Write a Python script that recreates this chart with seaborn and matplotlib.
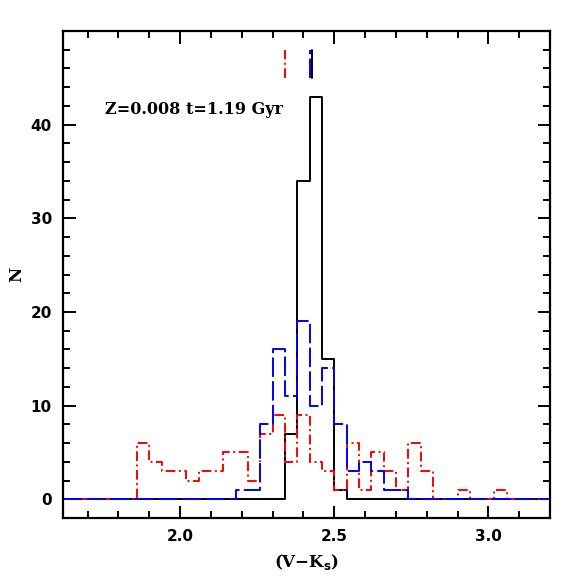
import numpy as np
import matplotlib
matplotlib.use('Agg')
import matplotlib.pyplot as plt
import seaborn as sns

# bin edges of the colour histograms (width 0.04)
bin_edges = [1.62, 1.66, 1.70, 1.74, 1.78, 1.82, 1.86, 1.90, 1.94, 1.98,
             2.02, 2.06, 2.10, 2.14, 2.18, 2.22, 2.26, 2.30, 2.34, 2.38,
             2.42, 2.46, 2.50, 2.54, 2.58, 2.62, 2.66, 2.70, 2.74, 2.78,
             2.82, 2.86, 2.90, 2.94, 2.98, 3.02, 3.06, 3.10, 3.14, 3.18, 3.22]

# counts per bin
n_black = [0, 0, 0, 0, 0, 0, 0, 0, 0, 0,
           0, 0, 0, 0, 0, 0, 0, 0, 7, 34,
           43, 15, 1, 0, 0, 0, 0, 0, 0, 0,
           0, 0, 0, 0, 0, 0, 0, 0, 0, 0]
n_blue = [0, 0, 0, 0, 0, 0, 0, 0, 0, 0,
          0, 0, 0, 0, 1, 1, 8, 16, 11, 19,
          10, 14, 8, 3, 4, 3, 1, 1, 0, 0,
          0, 0, 0, 0, 0, 0, 0, 0, 0, 0]
n_red = [0, 0, 0, 0, 0, 0, 6, 4, 3, 3,
         2, 3, 3, 5, 5, 2, 7, 9, 4, 9,
         4, 3, 1, 6, 1, 5, 3, 1, 6, 3,
         0, 0, 1, 0, 0, 1, 0, 0, 0, 0]

# mean colour markers at the top
mean_x = [2.428, 2.34, 2.421]
label_text = 'Z=0.008 t=1.19 Gyr'

centers = [(a + b) / 2 for a, b in zip(bin_edges[:-1], bin_edges[1:])]

sns.set_style('ticks', rc={'axes.edgecolor': 'black', 'xtick.color': 'black',
                           'ytick.color': 'black', 'text.color': 'black',
                           'axes.labelcolor': 'black'})
plt.rcParams['font.family'] = ['DejaVu Sans']

fig = plt.figure(figsize=(5.81, 5.81), dpi=100)
ax = fig.add_axes([0.1084, 0.1084, 0.8382, 0.8382])

styles = [
    ('black', n_black, dict(linestyle='-')),
    ('red', n_red, dict(dashes=(5.0, 1.8, 1.0, 1.8))),
    ('blue', n_blue, dict(dashes=(10, 2.2))),
]
for (col, counts, ls), mx in zip(styles, mean_x):
    sns.histplot(x=centers, weights=counts, bins=bin_edges, element='step',
                 fill=False, color=col, linewidth=1.4, ax=ax, **ls)
    ax.plot([mx, mx], [45, 48], color=col, linewidth=1.4, **ls)

ax.set_xlim(1.62, 3.2)
ax.set_ylim(-2, 50)
ax.set_xticks([2.0, 2.5, 3.0])
ax.set_xticklabels(['2.0', '2.5', '3.0'])
ax.set_xticks(np.arange(1.7, 3.2, 0.1), minor=True)
ax.set_yticks([0, 10, 20, 30, 40])
ax.set_yticks(np.arange(0, 50, 2), minor=True)

ax.tick_params(which='both', direction='in', top=True, right=True, width=1.4,
               color='black', labelcolor='black')
ax.tick_params(which='major', length=9, pad=8, labelsize=11)
ax.tick_params(which='minor', length=5)
for lab in ax.get_xticklabels() + ax.get_yticklabels():
    lab.set_fontweight('bold')
for sp in ax.spines.values():
    sp.set_linewidth(1.6)
    sp.set_color('black')

ax.set_xlabel('(V\u2212K$_\\mathbf{s}$)', family='DejaVu Serif', fontsize=12,
              fontweight='bold', labelpad=6, color='black')
ax.set_ylabel('N', family='DejaVu Serif', fontsize=12, fontweight='bold',
              color='black')
ax.yaxis.set_label_coords(-0.078, 0.5)
ax.text(1.755, 41.6, label_text, family='DejaVu Serif', fontsize=11.5,
        fontweight='bold', va='center', ha='left', color='black')

fig.savefig('out.png', dpi=100)
